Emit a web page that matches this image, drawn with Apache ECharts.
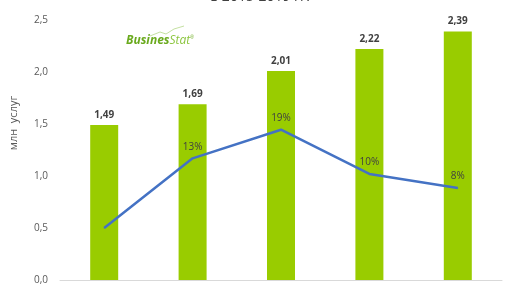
<!DOCTYPE html>
<html><head><meta charset="utf-8">
<script src="https://cdn.jsdelivr.net/npm/echarts@6/dist/echarts.min.js"></script>
<style>html,body{margin:0;padding:0;background:#fff}#c{width:516px;height:290px}</style>
</head><body><div id="c"></div>
<script>
const categories = ['2015', '2016', '2017', '2018', '2019'];
const barValues = [1.49, 1.69, 2.01, 2.22, 2.39];
const growthValues = [0, 13.4, 18.9, 10.4, 7.7];
const yTicks = ['0,0', '0,5', '1,0', '1,5', '2,0', '2,5'];
const yName = 'млн  услуг';
const titleText = 'в 2015-2019 гг.';

const chart = echarts.init(document.getElementById('c'));
chart.setOption({
  animation: false,
  grid: {left: 60, right: 14, top: 20, bottom: 10},
  graphic: [
    {type: 'text', x: 260, y: 4, style: {text: titleText, fontSize: 14, fill: '#404040', fontFamily: 'Open Sans', textAlign: 'center', textVerticalAlign: 'bottom'}},
    {type: 'text', x: 14, y: 123, rotation: Math.PI / 2, style: {text: yName, fontSize: 11, fill: '#595959', fontFamily: 'Open Sans', textAlign: 'center', textVerticalAlign: 'middle'}},
    {type: 'text', x: 126, y: 35, style: {rich: {a: {fontSize: 12, fontWeight: 'bold', fontStyle: 'italic', fill: '#6aaa1e', fontFamily: 'Open Sans'}, b: {fontSize: 12, fontStyle: 'italic', fill: '#8cc63f', fontFamily: 'Open Sans'}, r: {fontSize: 5, fill: '#6aaa1e', verticalAlign: 'top'}}, text: '{a|Busines}{b|Stat}{r|®}'}},
    {type: 'polyline', shape: {points: [[150, 36], [160, 32], [166, 34], [174, 29], [184, 26]]}, style: {stroke: '#b5d88a', lineWidth: 0.8, fill: null}}
  ],
  xAxis: {
    type: 'category', data: categories,
    axisLine: {lineStyle: {color: '#d9d9d9', width: 1}},
    axisTick: {show: false}, axisLabel: {show: false}
  },
  yAxis: [
    {type: 'value', min: 0, max: 2.5, interval: 0.5,
     splitLine: {show: false}, axisLine: {show: false}, axisTick: {show: false},
     axisLabel: {color: '#595959', fontSize: 10, fontFamily: 'Open Sans', margin: 12,
       formatter: (v) => yTicks[Math.round(v / 0.5)]}},
    {type: 'value', min: -10, max: 40, show: false, splitLine: {show: false}}
  ],
  series: [
    {type: 'bar', data: barValues, barWidth: 28, itemStyle: {color: '#99cc00'},
     label: {show: true, position: 'top', distance: 5, color: '#404040', fontSize: 10, fontWeight: 'bold', fontFamily: 'Open Sans',
       formatter: (p) => p.value.toFixed(2).replace('.', ',')}},
    {type: 'line', yAxisIndex: 1, data: growthValues, symbol: 'circle', symbolSize: 1, showSymbol: true,
     itemStyle: {color: '#4472c4'}, lineStyle: {color: '#4472c4', width: 2.5},
     label: {show: true, position: 'top', distance: 6, color: '#404040', fontSize: 10, fontFamily: 'Open Sans',
       formatter: (p) => p.dataIndex === 0 ? '' : Math.round(p.value) + '%'}}
  ]
});
</script></body></html>
